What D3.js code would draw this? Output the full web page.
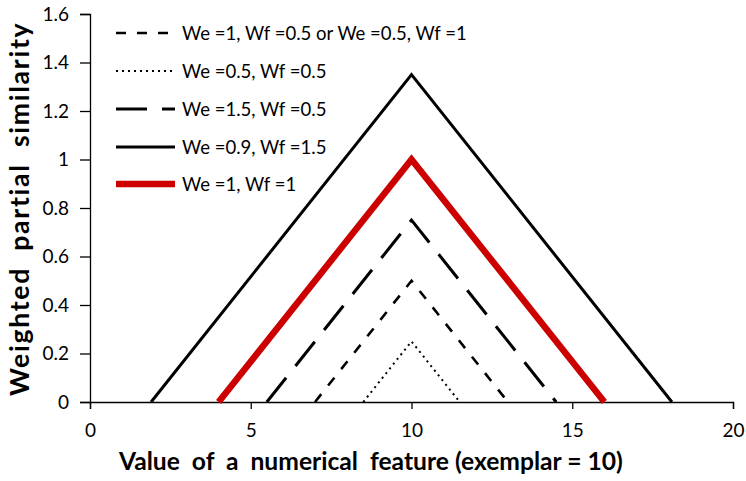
<!DOCTYPE html>
<html><head><meta charset="utf-8">
<script src="https://cdn.jsdelivr.net/npm/d3@7"></script>
<style>body{margin:0;background:#fff}svg{display:block}text{font-family:Lato,"Open Sans",sans-serif}</style>
</head><body><svg id="c" width="746" height="481"></svg>
<script>
const xTicks = [0, 5, 10, 15, 20];
const yTicks = [0, 0.2, 0.4, 0.6, 0.8, 1, 1.2, 1.4, 1.6];
const seriesNames = ["We =1, Wf =0.5 or We =0.5, Wf =1", "We =0.5, Wf =0.5", "We =1.5, Wf =0.5", "We =0.9, Wf =1.5", "We =1, Wf =1"];
const xShortDash = [7, 10, 13];   const yShortDash = [0, 0.5, 0];
const xDotted    = [8.5, 10, 11.5]; const yDotted  = [0, 0.25, 0];
const xLongDash  = [5.5, 10, 14.5]; const yLongDash = [0, 0.75, 0];
const xSolid     = [1.9, 10, 18.1]; const ySolid   = [0, 1.35, 0];
const xRed       = [4, 10, 16];   const yRed      = [0, 1, 0];

const styles = [
  {color:"#000", width:2.6, dash:"10,11"},
  {color:"#000", width:2, dash:"2,4"},
  {color:"#000", width:3, dash:"31,15"},
  {color:"#000", width:3, dash:null},
  {color:"#cc0000", width:6.5, dash:null}
];
const seriesData = [[xShortDash,yShortDash],[xDotted,yDotted],[xLongDash,yLongDash],[xSolid,ySolid],[xRed,yRed]];

const svg = d3.select("#c");
const m = {l:90, r:13, t:14, b:79};
const W = 746, H = 481;
const x = d3.scaleLinear().domain([0,20]).range([m.l, W-m.r]);
const y = d3.scaleLinear().domain([0,1.6]).range([H-m.b, m.t]);

function fit(t, target){
  const base = +t.attr("font-size");
  const w = t.node().getComputedTextLength();
  if (w > 0) t.attr("font-size", base * target / w);
}
function spread(t, target){
  const w = t.node().getComputedTextLength();
  const n = t.text().length;
  if (w > 0 && n > 1) t.attr("letter-spacing", Math.max(0, (target - w) / (n - 1)));
}

const xa = svg.append("g").attr("transform",`translate(0,${H-m.b})`)
  .call(d3.axisBottom(x).tickValues(xTicks).tickSize(7).tickPadding(15).tickFormat(d3.format("d")));
const ya = svg.append("g").attr("transform",`translate(${m.l},0)`)
  .call(d3.axisLeft(y).tickValues(yTicks).tickSize(10).tickPadding(11).tickFormat(d=>String(d)));
[xa,ya].forEach(a=>{
  a.selectAll("path,line").attr("stroke","#000").attr("stroke-width",1.3);
  a.selectAll("text").attr("font-size",19).attr("fill","#000");
});

const line = d3.line().x(d=>x(d[0])).y(d=>y(d[1]));
seriesData.forEach((s,i)=>{
  const pts = s[0].map((v,j)=>[v,s[1][j]]);
  const st = styles[i];
  svg.append("path").attr("d",line(pts)).attr("fill","none")
    .attr("stroke",st.color).attr("stroke-width",st.width)
    .attr("stroke-dasharray",st.dash).attr("stroke-linejoin","miter");
});

// legend
const legY = [33, 71, 109, 147, 184];
let legFs = 17;
seriesNames.forEach((n,i)=>{
  const st = styles[i];
  svg.append("line").attr("x1",116).attr("x2",175).attr("y1",legY[i]).attr("y2",legY[i])
    .attr("stroke",st.color).attr("stroke-width",st.width).attr("stroke-dasharray",st.dash);
  const t = svg.append("text").attr("class","leg").attr("x",182).attr("y",legY[i]).attr("dy","0.36em")
    .attr("font-size",legFs).attr("fill","#000").text(n);
  if (i === 0) { fit(t, 285); legFs = +t.attr("font-size"); }
});

const xt = svg.append("text").attr("x",119).attr("y",470)
  .attr("font-size",22).attr("font-weight","bold").style("white-space","pre")
  .text("Value  of  a  numerical  feature (exemplar = 10)");
fit(xt, 504);
const yt = svg.append("text").attr("x",0).attr("y",0).attr("transform","translate(29,396) rotate(-90)")
  .attr("font-size",+xt.attr("font-size") * 1.08).attr("font-weight","bold").style("white-space","pre")
  .text("Weighted  partial  similarity");
spread(yt, 373);
</script></body></html>
